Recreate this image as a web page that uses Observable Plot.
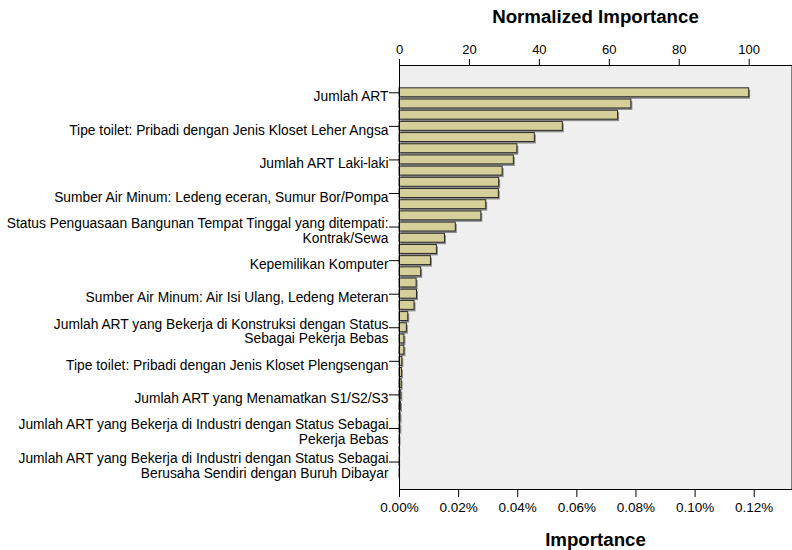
<!DOCTYPE html>
<html>
<head>
<meta charset="utf-8">
<script src="https://cdn.jsdelivr.net/npm/d3@7"></script>
<script src="https://cdn.jsdelivr.net/npm/@observablehq/plot@0.6"></script>
<style>
  html, body { margin: 0; padding: 0; background: #ffffff; }
  #chart svg { display: block; }
</style>
</head>
<body>
<div id="chart"></div>
<script>
// Normalized importance (0-100) for each of the 36 predictors, sorted descending
const normalizedImportance = [
  100, 66.3, 62.5, 46.7, 38.7, 33.7, 32.7, 29.5, 28.5, 28.4,
  24.8, 23.4, 16.1, 13.0, 10.7, 9.0, 6.2, 4.9, 5.0, 4.3,
  2.5, 2.1, 1.4, 1.4, 0.8, 0.7, 0.6, 0.5, 0.4, 0.3,
  0.25, 0.15, 0.05, 0.03, 0.01, 0
];

// Labels shown on the axis (every third predictor)
const labelIndex = [0, 3, 6, 9, 12, 15, 18, 21, 24, 27, 30, 33];
const labelText = [
  "Jumlah ART",
  "Tipe toilet: Pribadi dengan Jenis Kloset Leher Angsa",
  "Jumlah ART Laki-laki",
  "Sumber Air Minum: Ledeng eceran, Sumur Bor/Pompa",
  "Status Penguasaan Bangunan Tempat Tinggal yang ditempati:\nKontrak/Sewa",
  "Kepemilikan Komputer",
  "Sumber Air Minum: Air Isi Ulang, Ledeng Meteran",
  "Jumlah ART yang Bekerja di Konstruksi dengan Status\nSebagai Pekerja Bebas",
  "Tipe toilet: Pribadi dengan Jenis Kloset Plengsengan",
  "Jumlah ART yang Menamatkan S1/S2/S3",
  "Jumlah ART yang Bekerja di Industri dengan Status Sebagai\nPekerja Bebas",
  "Jumlah ART yang Bekerja di Industri dengan Status Sebagai\nBerusaha Sendiri dengan Buruh Dibayar"
];

// Top axis ticks (normalized importance)
const normalizedTicks = [0, 20, 40, 60, 80, 100];
// Bottom axis ticks (raw importance, percent)
const importanceTicks = [0, 0.02, 0.04, 0.06, 0.08, 0.10, 0.12];
const importanceTickLabels = ["0.00%", "0.02%", "0.04%", "0.06%", "0.08%", "0.10%", "0.12%"];
// Raw importance (percent) of the top predictor (normalized = 100)
const maxImportance = 0.1183;

const data = normalizedImportance.map((v, i) => ({i, v}));
const labelMap = new Map(labelIndex.map((k, j) => [k, labelText[j]]));
const impPositions = importanceTicks.map(t => t / maxImportance * 100);
const impLabelMap = new Map(impPositions.map((p, j) => [p, importanceTickLabels[j]]));

const font = "'Liberation Sans', Arial, sans-serif";

const chart = Plot.plot({
  width: 792,
  height: 550,
  marginLeft: 399,
  marginRight: 1,
  marginTop: 65,
  marginBottom: 61,
  style: {fontFamily: font, fontSize: "13.5px", color: "#000", background: "#ffffff"},
  x: {domain: [0, 112.1], axis: null},
  y: {type: "band", domain: data.map(d => d.i), range: [86.7, 489.5], paddingInner: 0.2, paddingOuter: 0.1, align: 0.5, round: false, axis: null},
  marks: [
    Plot.frame({fill: "#efefef", stroke: "#808080"}),
    Plot.barX(data, {x: "v", y: "i", fill: "#8c8c8c", dx: 1.5, dy: 2}),
    Plot.barX(data, {x: "v", y: "i", fill: "#d5cf99", stroke: "#2a2a2a", strokeWidth: 1}),
    Plot.frame({anchor: "left", stroke: "#000"}),
    Plot.frame({anchor: "top", stroke: "#000"}),
    Plot.frame({anchor: "bottom", stroke: "#000"}),
    // top axis
    Plot.axisX({anchor: "top", ticks: normalizedTicks, tickSize: 7, tickPadding: 5, fontSize: 13, stroke: "#000", fill: "#000", label: null}),
    // bottom axis
    Plot.axisX({anchor: "bottom", ticks: impPositions, tickFormat: d => impLabelMap.get(d), tickSize: 8, tickPadding: 5, fontSize: 13.5, stroke: "#000", fill: "#000", label: null}),
    // y tick marks
    Plot.axisY({anchor: "left", ticks: labelIndex, tickSize: 10, tickFormat: () => "", stroke: "#000", label: null}),
    // y tick labels
    Plot.axisY({anchor: "left", ticks: labelIndex, tickSize: 0, tickPadding: 11, dy: 3.5, lineHeight: 1.08, tickFormat: d => labelMap.get(d), fontSize: 13.8, fill: "#000", label: null}),
    // titles
    Plot.text(["Normalized Importance"], {frameAnchor: "top", text: d => d, dy: -43, lineAnchor: "bottom", fontSize: 18.7, fontWeight: "bold", fill: "#000"}),
    Plot.text(["Importance"], {frameAnchor: "bottom", text: d => d, dy: 56, lineAnchor: "bottom", fontSize: 18.7, fontWeight: "bold", fill: "#000"})
  ]
});

document.getElementById("chart").appendChild(chart);
</script>
</body>
</html>
